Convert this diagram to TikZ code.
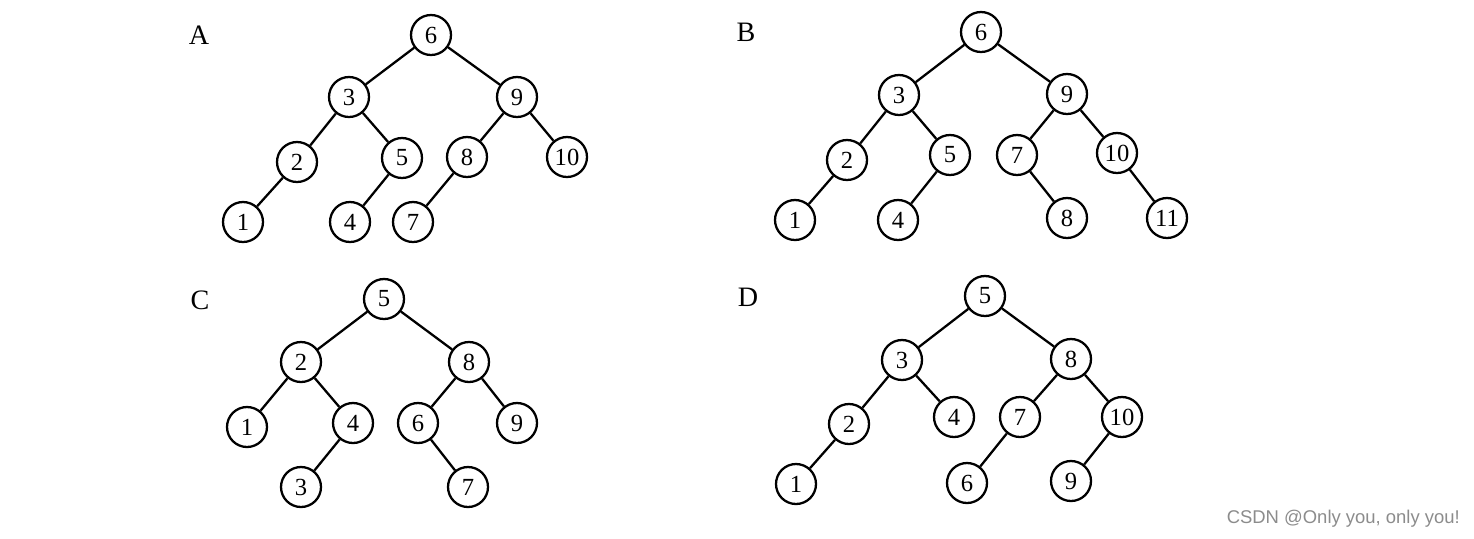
\documentclass[tikz,border=0pt]{standalone}
\usepackage{fontspec}
\setmainfont{Liberation Serif}
\newfontfamily\wmfont{Liberation Sans}
\begin{document}
\begin{tikzpicture}[x=0.02cm,y=-0.02cm,
  tn/.style={circle,draw,line width=1.3pt,minimum size=0.8cm,inner sep=0pt,font=\fontsize{14}{16}\selectfont},
  ed/.style={line width=1.3pt},
  lab/.style={font=\fontsize{16}{18}\selectfont}]
\useasboundingbox[fill=white] (0,0) rectangle (1474,538);
% Tree A
\node[lab] (LA) at (199,35) {A};
\node[tn] (a6) at (431,35) {6};
\node[tn] (a3) at (349,97) {3};
\node[tn] (a9) at (517,97) {9};
\node[tn] (a2) at (297,162) {2};
\node[tn] (a5) at (402,158) {5};
\node[tn] (a8) at (467,157) {8};
\node[tn] (a10) at (567,157) {10};
\node[tn] (a1) at (243,222) {1};
\node[tn] (a4) at (350,222) {4};
\node[tn] (a7) at (413,222) {7};
\draw[ed] (a6)--(a3) (a6)--(a9) (a3)--(a2) (a3)--(a5) (a9)--(a8) (a9)--(a10) (a2)--(a1) (a5)--(a4) (a8)--(a7);
% Tree B
\node[lab] (LB) at (746,32) {B};
\node[tn] (b6) at (981,32) {6};
\node[tn] (b3) at (899,95) {3};
\node[tn] (b9) at (1067,94) {9};
\node[tn] (b2) at (847,160) {2};
\node[tn] (b5) at (950,155) {5};
\node[tn] (b7) at (1017,155) {7};
\node[tn] (b10) at (1117,153) {10};
\node[tn] (b1) at (795,220) {1};
\node[tn] (b4) at (898,220) {4};
\node[tn] (b8) at (1067,218) {8};
\node[tn] (b11) at (1167,218) {11};
\draw[ed] (b6)--(b3) (b6)--(b9) (b3)--(b2) (b3)--(b5) (b9)--(b7) (b9)--(b10) (b2)--(b1) (b5)--(b4) (b7)--(b8) (b10)--(b11);
% Tree C
\node[lab] (LC) at (200,300) {C};
\node[tn] (c5) at (384,299) {5};
\node[tn] (c2) at (301,362) {2};
\node[tn] (c8) at (469,362) {8};
\node[tn] (c1) at (247,427) {1};
\node[tn] (c4) at (353,423) {4};
\node[tn] (c6) at (418,423) {6};
\node[tn] (c9) at (517,423) {9};
\node[tn] (c3) at (301,487) {3};
\node[tn] (c7) at (468,487) {7};
\draw[ed] (c5)--(c2) (c5)--(c8) (c2)--(c1) (c2)--(c4) (c8)--(c6) (c8)--(c9) (c4)--(c3) (c6)--(c7);
% Tree D
\node[lab] (LD) at (748,297) {D};
\node[tn] (d5) at (985,296) {5};
\node[tn] (d3) at (902,360) {3};
\node[tn] (d8) at (1071,359) {8};
\node[tn] (d2) at (849,424) {2};
\node[tn] (d4) at (954,417) {4};
\node[tn] (d7) at (1020,417) {7};
\node[tn] (d10) at (1122,417) {10};
\node[tn] (d1) at (796,484) {1};
\node[tn] (d6) at (967,483) {6};
\node[tn] (d9) at (1071,481) {9};
\draw[ed] (d5)--(d3) (d5)--(d8) (d3)--(d2) (d3)--(d4) (d8)--(d7) (d8)--(d10) (d2)--(d1) (d7)--(d6) (d10)--(d9);
% watermark
\node[anchor=east,text=black!45,font=\wmfont\fontsize{10.5}{12}\selectfont] (wm) at (1466,519) {CSDN @Only you, only you!};
\end{tikzpicture}
\end{document}
